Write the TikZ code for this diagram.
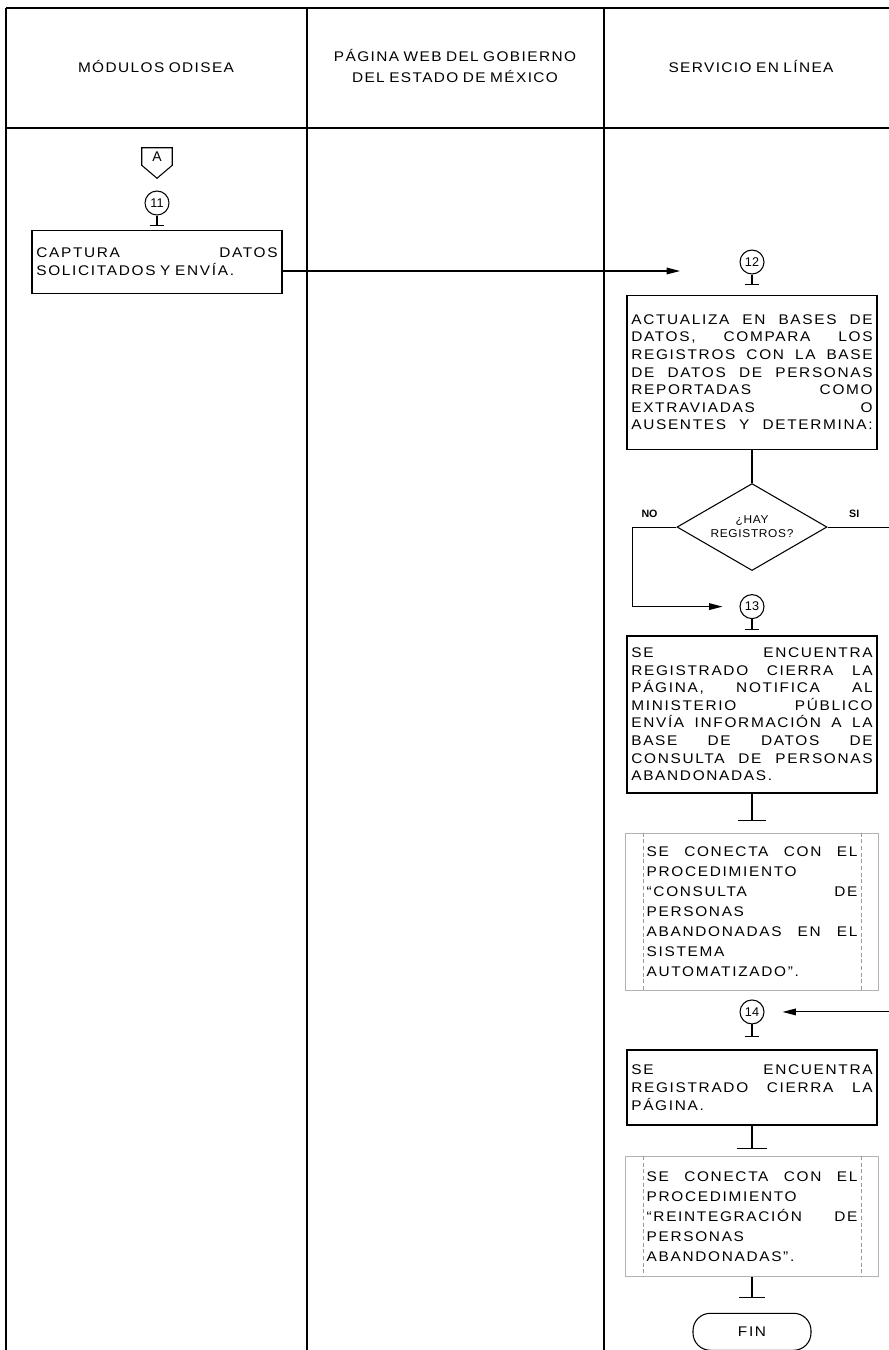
\documentclass[tikz,border=0pt]{standalone}
\usepackage{fontspec}
\setmainfont{Liberation Sans}
\newfontfamily\boxfont[FakeStretch=1.1, LetterSpace=12]{Liberation Sans}
\newfontfamily\headfont[FakeStretch=1.1, LetterSpace=10]{Liberation Sans}
\newfontfamily\smallfont[FakeStretch=1.05, LetterSpace=6]{Liberation Sans}
\usetikzlibrary{shapes.geometric, arrows.meta, positioning, calc}

% word space that survives letter spacing
\newcommand{\wsp}{\spaceskip=0.32em plus 20em\relax}
% one justified line inside a box of width \jlw
\newlength{\jlw}
\newcommand{\jl}[1]{\makebox[\jlw][s]{\spaceskip=0.32em plus 1fil\relax#1}}

\begin{document}
\begin{tikzpicture}[
        x=0.75pt, y=-0.75pt,
        lane/.style={line width=1.6pt},
        title/.style={align=center, font=\headfont\fontsize{10.5}{16}\selectfont\wsp},
        num/.style={circle, draw, line width=0.8pt, minimum size=18pt, inner sep=0pt, font=\fontsize{9.5}{9.5}\selectfont},
        task/.style={rectangle, draw, line width=1.1pt, minimum width=187.5pt, text width=181pt, inner xsep=3pt, align=left,
            font=\boxfont\fontsize{10.5}{13.2}\selectfont\wsp\setlength{\jlw}{181pt}},
        proc/.style={rectangle, draw=gray!60, line width=0.6pt, minimum width=189.75pt, text width=158pt, align=left,
            font=\boxfont\fontsize{10.5}{15}\selectfont\wsp\setlength{\jlw}{158pt}},
        guide/.style={draw=gray!80, densely dashed, line width=0.5pt},
        decision/.style={diamond, draw, line width=0.8pt, minimum width=112.5pt, minimum height=65.25pt, aspect=1.7, inner sep=0pt, align=center, font=\smallfont\fontsize{8.5}{10.5}\selectfont\wsp},
        lbl/.style={inner sep=0pt, font=\bfseries\fontsize{8}{8}\selectfont},
        term/.style={rectangle, draw, line width=0.8pt, rounded corners=13pt, minimum width=88.5pt, minimum height=27.75pt, font=\boxfont\fontsize{10.5}{10.5}\selectfont},
        line/.style={draw, line width=0.8pt, -{Triangle[length=10pt, width=5pt]}},
        stem/.style={draw, line width=0.8pt}
    ]
        \useasboundingbox (0,0) rectangle (889,1350);

        % Lanes
        \draw[lane] (6,8) -- (889,8);
        \draw[lane] (6,128) -- (889,128);
        \draw[lane] (6,8) -- (6,1350);
        \draw[lane] (307,8) -- (307,1350);
        \draw[lane] (604,8) -- (604,1350);
        \node[title] (lane1) at (156,66) {MÓDULOS ODISEA};
        \node[title] (lane2) at (455,66) {PÁGINA WEB DEL GOBIERNO\\DEL ESTADO DE MÉXICO};
        \node[title] (lane3) at (751,66) {SERVICIO EN LÍNEA};

        % Modulos Odisea
        \node[inner sep=0pt, minimum width=22.5pt, minimum height=12.75pt, font=\fontsize{10.5}{10.5}\selectfont] (offA) at (157,156.5) {A};
        \draw[line width=0.8pt] (offA.north west) -- (offA.north east) -- (offA.south east)
            -- ([yshift=-9.75pt]offA.south) -- (offA.south west) -- cycle;
        \node[num] (c11) at (157,203) {11};
        \coordinate[below=7.5pt of c11] (t11);
        \draw[stem] (c11) -- (t11) ([xshift=-5.6pt]t11) -- ([xshift=5.6pt]t11);
        \node[task, minimum height=47.25pt, below=10.5pt of c11] (capt)
            {\jl{CAPTURA DATOS}\\SOLICITADOS Y ENVÍA.};
        \coordinate (captTip) at (680,271);
        \draw[line] (capt.east |- captTip) -- (captTip);

        % Servicio en linea
        \node[num] (c12) at (752,262) {12};
        \coordinate[below=7.5pt of c12] (t12);
        \draw[stem] (c12) -- (t12) ([xshift=-5.6pt]t12) -- ([xshift=5.6pt]t12);
        \node[task, minimum height=115.5pt, below=15pt of c12] (upd)
            {\jl{ACTUALIZA EN BASES DE}\\\jl{DATOS, COMPARA LOS}\\\jl{REGISTROS CON LA BASE}\\
             \jl{DE DATOS DE PERSONAS}\\\jl{REPORTADAS COMO}\\\jl{EXTRAVIADAS O}\\
             \jl{AUSENTES Y DETERMINA:}};
        \node[decision, below=24.75pt of upd] (dia) {¿HAY\\REGISTROS?};
        \draw[stem] (upd) -- (dia);
        \node[lbl, above left=7pt and 14pt of dia.west] (no) {NO};
        \node[lbl, above right=7pt and 16pt of dia.east] (si) {SI};

        \node[num, below=17.25pt of dia] (c13) {13};
        \coordinate[left=12.75pt of c13] (noTip);
        \draw[line] (dia.west) -- ++(-44,0) |- (noTip);
        \coordinate[below=7.5pt of c13] (t13);
        \draw[stem] (c13) -- (t13) ([xshift=-5.6pt]t13) -- ([xshift=5.6pt]t13);
        \node[task, minimum height=117.75pt, below=12pt of c13] (found)
            {\jl{SE ENCUENTRA}\\\jl{REGISTRADO CIERRA LA}\\\jl{PÁGINA, NOTIFICA AL}\\
             \jl{MINISTERIO PÚBLICO}\\\jl{ENVÍA INFORMACIÓN A LA}\\\jl{BASE DE DATOS DE}\\
             \jl{CONSULTA DE PERSONAS}\\ABANDONADAS.};
        \coordinate[below=20.25pt of found] (tFound);
        \draw[stem] (found) -- (tFound) ([xshift=-10.5pt]tFound) -- ([xshift=10.5pt]tFound);

        \node[proc, minimum height=117.75pt, below=29.25pt of found] (conn1)
            {\jl{SE CONECTA CON EL}\\PROCEDIMIENTO\\\jl{“CONSULTA DE}\\PERSONAS\\
             \jl{ABANDONADAS EN EL}\\SISTEMA\\AUTOMATIZADO”.};
        \draw[guide] ([xshift=13.5pt]conn1.north west) -- ([xshift=13.5pt]conn1.south west);
        \draw[guide] ([xshift=-13.5pt]conn1.north east) -- ([xshift=-13.5pt]conn1.south east);

        \node[num, below=6.75pt of conn1] (c14) {14};
        \coordinate[below=9pt of c14] (t14);
        \draw[stem] (c14) -- (t14) ([xshift=-5.6pt]t14) -- ([xshift=5.6pt]t14);
        \node[task, minimum height=56.25pt, below=18.75pt of c14] (found2)
            {\jl{SE ENCUENTRA}\\\jl{REGISTRADO CIERRA LA}\\PÁGINA.};
        \coordinate[below=17.25pt of found2] (tFound2);
        \draw[stem] (found2) -- (tFound2) ([xshift=-11pt]tFound2) -- ([xshift=11pt]tFound2);

        \node[proc, minimum height=90pt, below=22.5pt of found2] (conn2)
            {\jl{SE CONECTA CON EL}\\PROCEDIMIENTO\\\jl{“REINTEGRACIÓN DE}\\PERSONAS\\ABANDONADAS”.};
        \draw[guide] ([xshift=13.5pt]conn2.north west) -- ([xshift=13.5pt]conn2.south west);
        \draw[guide] ([xshift=-13.5pt]conn2.north east) -- ([xshift=-13.5pt]conn2.south east);
        \coordinate[below=15.75pt of conn2] (tConn2);
        \draw[stem] (conn2) -- (tConn2) ([xshift=-9.75pt]tConn2) -- ([xshift=9.75pt]tConn2);
        \node[term, below=27pt of conn2] (fin) {FIN};

        % SI branch (leaves the page on the right)
        \coordinate (edgeR) at (889,0);
        \coordinate[right=13.5pt of c14] (c14Tip);
        \draw[stem] (dia.east) -- (dia.east -| edgeR);
        \draw[line] (c14 -| edgeR) -- (c14Tip);
    \end{tikzpicture}
\end{document}
